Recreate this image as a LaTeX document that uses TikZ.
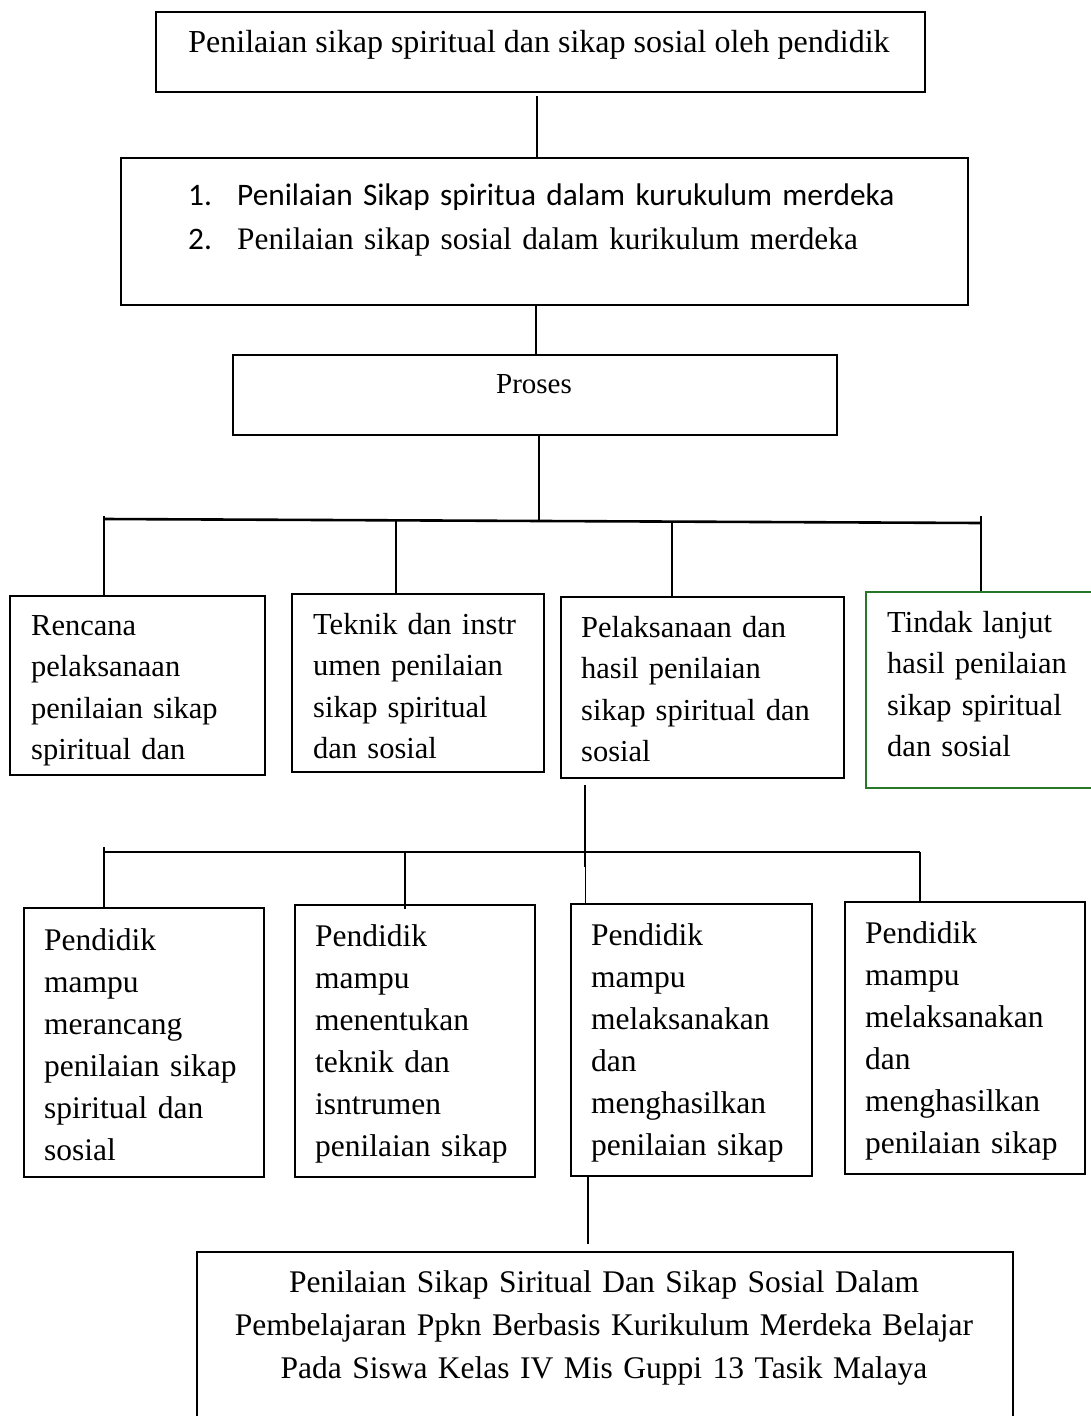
\documentclass[tikz,border=0pt]{standalone}
\usepackage{fontspec}
\setmainfont{Liberation Serif}
\newfontfamily\calfont{Carlito}
\definecolor{boxgreen}{RGB}{40,118,40}
\begin{document}
\begin{tikzpicture}[x=1pt,y=-1pt,
  box/.style={draw, line width=2.4pt, inner sep=0pt, anchor=north west},
  link/.style={line width=2pt},
  txt/.style={inner sep=0pt, align=left, anchor=base west, text width=#1},
  txt/.default=260pt,
  bigfont/.style={font=\fontsize{32}{43}\selectfont},
  listfont/.style={font=\fontsize{31.3}{44}\selectfont},
  midfont/.style={font=\fontsize{30.5}{41.5}\selectfont},
  smfont/.style={font=\fontsize{31.5}{42}\selectfont}]
\clip (0,0) rectangle (1091,1416);
\fill[white] (0,0) rectangle (1091,1416);

% level 1
\node[box, minimum width=769pt, minimum height=80pt] (B1) at (155,11) {};
\node[bigfont, inner sep=0pt, anchor=base] (B1t) at (539,52) {Penilaian sikap spiritual dan sikap sosial oleh pendidik};

% level 2
\node[box, minimum width=847pt, minimum height=147pt] (B2) at (120,157) {};
\node[listfont, txt=800pt] (B2t) at (188,205)
  {\makebox[49pt][l]{\calfont 1.}{\calfont Penilaian Sikap spiritua dalam kurukulum merdeka}\\
   \makebox[49pt][l]{\calfont 2.}Penilaian sikap sosial dalam kurikulum merdeka};

% level 3
\node[box, minimum width=604pt, minimum height=80pt] (B3) at (232,354) {};
\node[font=\fontsize{29}{35}\selectfont, inner sep=0pt, anchor=base] (B3t) at (534,393) {Proses};

% level 4
\node[box, minimum width=255pt, minimum height=179pt] (A) at (9,595) {};
\node[midfont, txt] (At) at (31,635) {Rencana\\pelaksanaan\\penilaian sikap\\spiritual dan};
\node[box, minimum width=252pt, minimum height=178pt] (B) at (291,593) {};
\node[midfont, txt] (Bt) at (313,634) {Teknik dan instr\\umen penilaian\\sikap spiritual\\dan sosial};
\node[box, minimum width=283pt, minimum height=181pt] (C) at (560,596) {};
\node[midfont, txt] (Ct) at (581,637) {Pelaksanaan dan\\hasil penilaian\\sikap spiritual dan\\sosial};
\node[box, draw=boxgreen, minimum width=270pt, minimum height=196pt] (D) at (865,591) {};
\node[midfont, txt] (Dt) at (887,632) {Tindak lanjut\\hasil penilaian\\sikap spiritual\\dan sosial};

% level 5
\node[box, minimum width=240pt, minimum height=269pt] (E) at (23,907) {};
\node[smfont, txt] (Et) at (44,950) {Pendidik\\mampu\\merancang\\penilaian sikap\\spiritual dan\\sosial};
\node[box, minimum width=240pt, minimum height=272pt] (F) at (294,904) {};
\node[smfont, txt] (Ft) at (315,946) {Pendidik\\mampu\\menentukan\\teknik dan\\isntrumen\\penilaian sikap};
\node[box, minimum width=241pt, minimum height=272pt] (G) at (570,903) {};
\node[smfont, txt] (Gt) at (591,945) {Pendidik\\mampu\\melaksanakan\\dan\\menghasilkan\\penilaian sikap};
\node[box, minimum width=240pt, minimum height=272pt] (H) at (844,901) {};
\node[smfont, txt] (Ht) at (865,943) {Pendidik\\mampu\\melaksanakan\\dan\\menghasilkan\\penilaian sikap};

% bottom
\node[box, minimum width=816pt, minimum height=200pt] (I) at (196,1251) {};
\node[font=\fontsize{31.5}{43}\selectfont, inner sep=0pt, align=center, text width=816pt, anchor=base] (It) at (604,1292)
  {Penilaian Sikap Siritual Dan Sikap Sosial Dalam\\Pembelajaran Ppkn Berbasis Kurikulum Merdeka Belajar\\Pada Siswa Kelas IV Mis Guppi 13 Tasik Malaya};

% connectors
\coordinate (c1) at (537,96);
\draw[link] (c1) -- (c1 |- B2.north);
\coordinate (c2) at (536,304);
\draw[link] (c2) -- (c2 |- B3.north);
\coordinate (busL) at (104,519);
\coordinate (busR) at (981,523);
\coordinate (busM) at (539,521);
\coordinate (dB) at (396,520);
\coordinate (dC) at (672,522);
\draw[link] (busM |- B3.south) -- (busM);
\draw[line width=2.6pt] (busL) -- (busR);
\draw[link] ([yshift=3pt]busL) -- (busL |- A.north);
\draw[link] (dB) -- (dB |- B.north);
\draw[link] (dC) -- (dC |- C.north);
\draw[link] ([yshift=7pt]busR) -- (busR |- D.north);

\coordinate (bus2L) at (104,852);
\coordinate (bus2R) at (920,852);
\coordinate (bus2M) at (585,852);
\coordinate (dF) at (405,852);
\coordinate (dFend) at (405,909);
\coordinate (c3) at (585,785);
\coordinate (c3end) at (585,867);
\draw[link] (c3) -- (c3end);
\draw[line width=2.6pt] (bus2L) -- (bus2R);
\draw[link] ([yshift=5pt]bus2L) -- (bus2L |- E.north);
\draw[link] (dF) -- (dFend);
\draw[line width=0.8pt] (bus2M) -- (bus2M |- G.north);
\draw[link] (bus2R) -- (bus2R |- H.north);
\coordinate (c4) at (588,1244);
\draw[link] (c4 |- G.south) -- (c4);
\end{tikzpicture}
\end{document}
